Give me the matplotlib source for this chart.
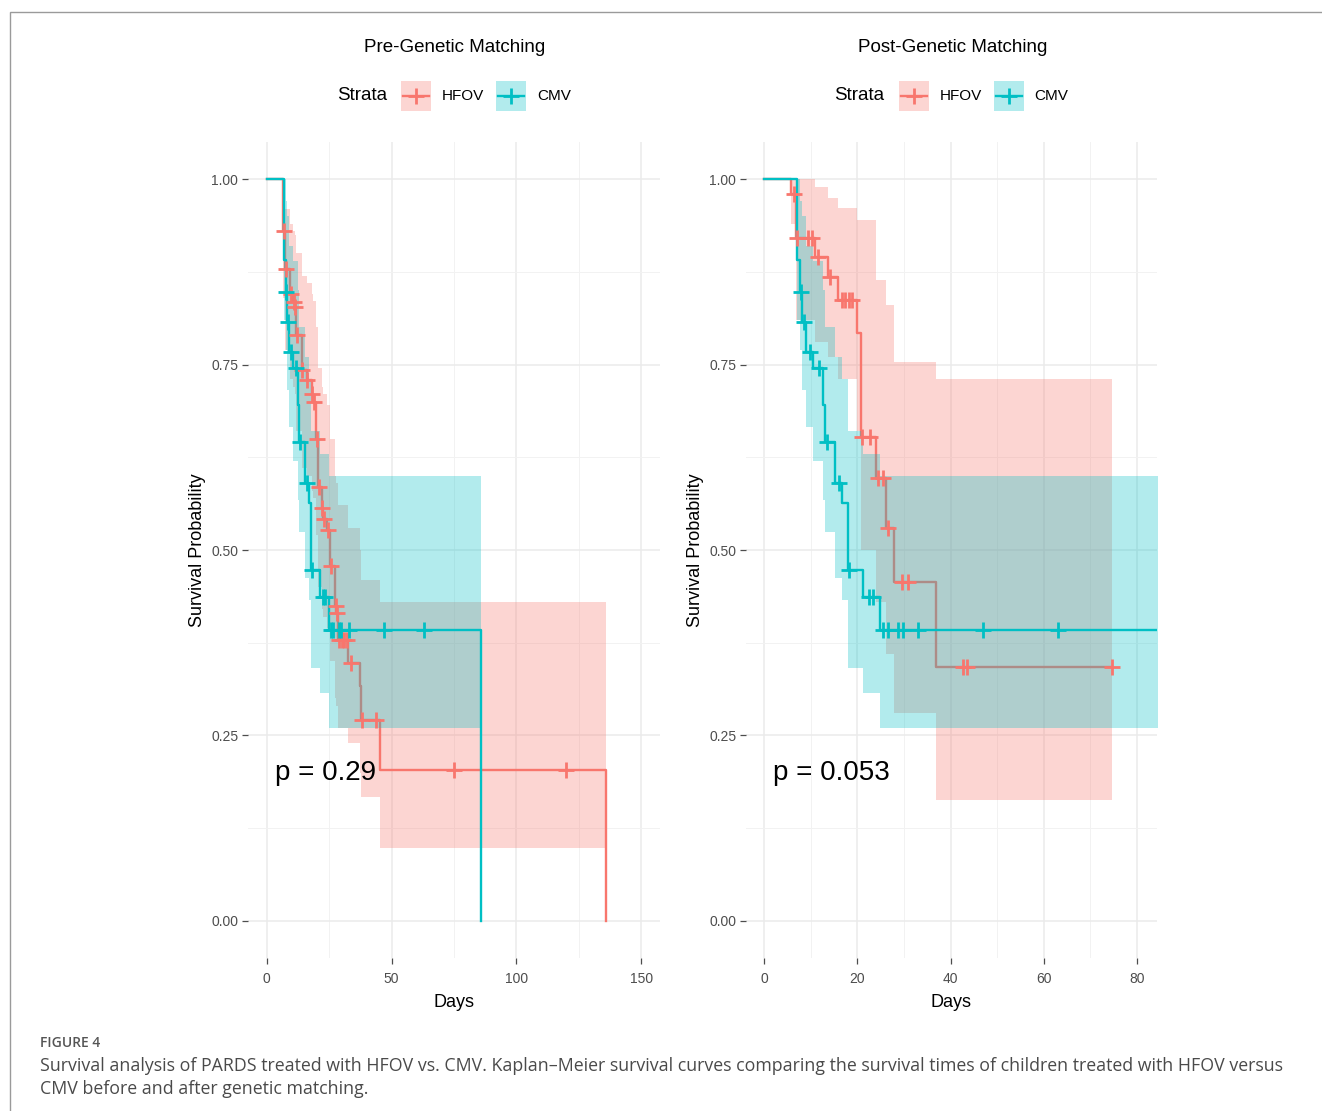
import numpy as np
import matplotlib.pyplot as plt
from matplotlib.patches import Rectangle
from matplotlib.lines import Line2D

W, H = 1322, 1111
SALMON = "#F8766D"
TEAL = "#00BFC4"
FONT = "Liberation Sans"

# ---- data ----
# CMV (same group before and after matching)
cmv_time = [7.0, 7.7, 8.2, 9.0, 10.5, 12.6, 13.1, 15.2, 16.8, 17.9, 21.3, 24.9]
cmv_surv = [0.891, 0.848, 0.807, 0.767, 0.745, 0.696, 0.646, 0.590, 0.563, 0.473, 0.437, 0.392]
cmv_lower = [0.81, 0.77, 0.716, 0.666, 0.62, 0.567, 0.524, 0.462, 0.432, 0.341, 0.307, 0.26]
cmv_upper = [1.0, 0.97, 0.95, 0.91, 0.89, 0.85, 0.80, 0.76, 0.73, 0.66, 0.63, 0.60]
cmv_end = (86.0, 0.0)
cmv_censor = [7.9, 8.5, 9.8, 11.8, 13.5, 16.0, 18.3, 22.6, 23.4, 25.6, 26.6, 28.8, 29.8, 33.0, 47.0, 63.0]

# HFOV before matching
pre_time = [6.4, 7.4, 9.5, 10.6, 11.2, 11.8, 14.0, 16.0, 18.0, 18.7, 19.8, 20.6, 22.0, 22.7,
            24.2, 25.2, 27.2, 27.9, 28.6, 32.6, 37.4, 37.9, 45.2]
pre_surv = [0.93, 0.879, 0.845, 0.834, 0.827, 0.790, 0.743, 0.729, 0.710, 0.699, 0.650, 0.585,
            0.556, 0.542, 0.527, 0.478, 0.424, 0.415, 0.379, 0.348, 0.316, 0.271, 0.204]
pre_lower = [0.84, 0.77, 0.73, 0.72, 0.71, 0.66, 0.61, 0.60, 0.58, 0.57, 0.52, 0.45, 0.42, 0.41,
             0.395, 0.35, 0.30, 0.29, 0.26, 0.24, 0.20, 0.167, 0.098]
pre_upper = [0.99, 0.96, 0.94, 0.93, 0.925, 0.90, 0.87, 0.86, 0.845, 0.835, 0.80, 0.745, 0.72,
             0.71, 0.695, 0.65, 0.60, 0.59, 0.56, 0.53, 0.50, 0.46, 0.43]
pre_end = (136.0, 0.0)
pre_censor = [6.9, 7.7, 9.9, 10.9, 11.5, 12.2, 14.3, 16.3, 18.3, 18.9, 20.3, 20.9, 22.3, 22.9,
              24.5, 25.6, 27.6, 28.1, 29.0, 30.0, 31.0, 32.0, 33.6, 38.3, 43.6, 74.8, 119.9]

# HFOV after matching
post_time = [5.8, 6.8, 10.9, 13.7, 15.9, 19.9, 20.7, 24.0, 26.2, 27.9, 36.9]
post_surv = [0.98, 0.92, 0.895, 0.868, 0.837, 0.792, 0.652, 0.597, 0.530, 0.457, 0.342]
post_lower = [0.94, 0.81, 0.78, 0.76, 0.73, 0.66, 0.50, 0.43, 0.36, 0.28, 0.163]
post_upper = [1.0, 1.0, 0.99, 0.974, 0.961, 0.945, 0.945, 0.864, 0.83, 0.753, 0.73]
post_end = (74.7, None)  # last subject censored, no drop
post_censor = [6.3, 7.0, 9.4, 10.3, 11.6, 14.2, 16.7, 17.4, 18.1, 18.9, 21.1, 22.7, 24.5, 25.6,
               26.6, 29.6, 30.9, 42.7, 43.6, 74.7]

pvals = ["p = 0.29", "p = 0.053"]
titles = ["Pre-Genetic Matching", "Post-Genetic Matching"]


def km_arrays(time, surv, lower, upper, end):
    t = np.r_[0.0, time, end[0]]
    last = surv[-1] if end[1] is None else end[1]
    s = np.r_[1.0, surv, last]
    lo = np.r_[1.0, lower, lower[-1]]
    up = np.r_[1.0, upper, upper[-1]]
    return t, s, lo, up


def censor_y(t, s, cens):
    idx = np.searchsorted(t, cens, side="right") - 1
    return s[idx]


def draw_curve(ax, data, color, z):
    t, s, lo, up = km_arrays(*data[:5])
    ax.fill_between(t, lo, up, step="post", color=color, alpha=0.3, lw=0, zorder=z)
    ax.step(t, s, where="post", color=color, lw=1.7, zorder=z + 0.5)
    return t, s


fig = plt.figure(figsize=(W / 100, H / 100), dpi=100)
fig.patch.set_facecolor("white")


def fx(x):
    return x / W


def fy(y):
    return 1 - y / H


panels = [
    (248, 660, (-7.5, 157.5), [0, 50, 100, 150], [25, 75, 125],
     (pre_time, pre_surv, pre_lower, pre_upper, pre_end), pre_censor, 3.5),
    (746, 1157, (-3.9, 84.3), [0, 20, 40, 60, 80], [10, 30, 50, 70],
     (post_time, post_surv, post_lower, post_upper, post_end), post_censor, 1.9),
]
cmv_data = (cmv_time, cmv_surv, cmv_lower, cmv_upper, cmv_end)

for i, (x0, x1, xlim, xt, xminor, hfov, hcens, px) in enumerate(panels):
    ax = fig.add_axes([fx(x0), fy(958), fx(x1) - fx(x0), fy(142) - fy(958)])
    ax.set_xlim(*xlim)
    ax.set_ylim(-0.05, 1.05)
    for sp in ax.spines.values():
        sp.set_visible(False)
    ax.set_xticks(xt)
    ax.set_xticks(xminor, minor=True)
    ax.set_yticks([0, 0.25, 0.5, 0.75, 1.0])
    ax.set_yticklabels(["0.00", "0.25", "0.50", "0.75", "1.00"])
    ax.set_yticks([0.125, 0.375, 0.625, 0.875], minor=True)
    ax.grid(True, which="major", color="#EBEBEB", lw=1.1, zorder=0)
    ax.grid(True, which="minor", color="#F2F2F2", lw=0.7, zorder=0)
    ax.tick_params(which="major", length=4, width=0.9, color="#4D4D4D",
                   labelcolor="#4D4D4D", labelsize=10, pad=3)
    ax.tick_params(axis="x", which="major", pad=6)
    ax.tick_params(which="minor", length=0)
    for lab in ax.get_xticklabels() + ax.get_yticklabels():
        lab.set_fontfamily(FONT)
    ax.set_axisbelow(True)

    th, sh = draw_curve(ax, hfov, SALMON, 1.5)
    tc, sc = draw_curve(ax, cmv_data, TEAL, 2.5)
    ax.plot(hcens, censor_y(th, sh, hcens), ls="none", marker="+", ms=11, mew=2.0,
            color=SALMON, zorder=5)
    ax.plot(cmv_censor, censor_y(tc, sc, cmv_censor), ls="none", marker="+", ms=11, mew=2.0,
            color=TEAL, zorder=5, clip_on=True)

    ax.text(px, 0.2, pvals[i], fontsize=20, family=FONT, ha="left", va="center", zorder=6)
    ax.set_xlabel("Days", fontsize=13, family=FONT, labelpad=6)
    ax.set_ylabel("Survival Probability", fontsize=13, family=FONT, labelpad=4)

    # title and legend above the panel
    cx = (x0 + x1) / 2 + 1
    fig.text(fx(cx), fy(47), titles[i], fontsize=13.5, family=FONT, ha="center", va="center")
    fig.text(fx(cx - 118), fy(96), "Strata", fontsize=13.5, family=FONT, ha="left", va="center")
    for k, (col, name) in enumerate([(SALMON, "HFOV"), (TEAL, "CMV")]):
        kx = cx - 54 + k * 95
        fig.add_artist(Rectangle((fx(kx), fy(111)), fx(30), 30 / H, transform=fig.transFigure,
                                 facecolor=col, alpha=0.3, lw=0))
        fig.add_artist(Line2D([fx(kx + 2), fx(kx + 28)], [fy(96), fy(96)],
                              transform=fig.transFigure, color=col, lw=1.7))
        fig.add_artist(Line2D([fx(kx + 15)], [fy(96)], transform=fig.transFigure, color=col,
                              marker="+", ms=11, mew=2.0))
        fig.text(fx(kx + 41), fy(96), name, fontsize=11, family=FONT, ha="left", va="center")

# outer frame
fig.add_artist(Rectangle((fx(10), -0.1), 1.2, fy(12) + 0.1, transform=fig.transFigure,
                         fill=False, edgecolor="#9A9A9A", lw=1.0))

# caption
fig.text(fx(40), fy(1043), "FIGURE 4", fontsize=10, family="Open Sans", weight="semibold",
         color="#555555", ha="left", va="center")
fig.text(fx(40), fy(1066),
         "Survival analysis of PARDS treated with HFOV vs. CMV. Kaplan\u2013Meier survival curves "
         "comparing the survival times of children treated with HFOV versus",
         fontsize=12.75, family="Open Sans", color="#4A4A4A", ha="left", va="center")
fig.text(fx(40), fy(1089), "CMV before and after genetic matching.",
         fontsize=12.75, family="Open Sans", color="#4A4A4A", ha="left", va="center")

fig.savefig("out.png", dpi=100)
